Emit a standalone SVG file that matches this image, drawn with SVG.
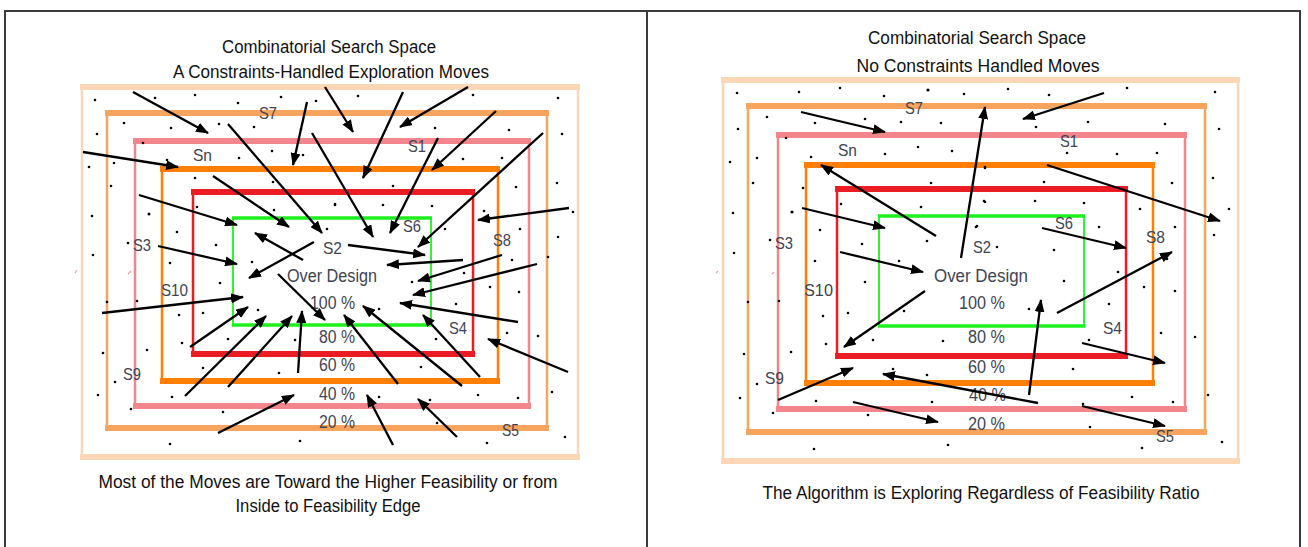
<svg xmlns="http://www.w3.org/2000/svg" width="1308" height="547" viewBox="0 0 1308 547">
<defs>
<marker id="ah" markerUnits="userSpaceOnUse" markerWidth="13" markerHeight="10" refX="12" refY="5" orient="auto"><path d="M0,0 L13,5 L0,10 z" fill="#000"/></marker>
<style>
.frame{fill:none;stroke:#3a3a3a;stroke-width:2}
.peach{stroke:#FCD7B6;fill:none}
.s7{stroke:#F7A55E;fill:none}
.pink{stroke:#F2868C;fill:none}
.sn{stroke:#FF7F05;fill:none}
.red{stroke:#EC1C24;fill:none}
.green{stroke:#1EF01E;fill:none}
.side{stroke-width:2.5}
.bar{stroke-width:6}
.gbar{stroke-width:3.5}
.gside{stroke-width:1.8}
.arr{stroke:#000;stroke-width:2.3;fill:none;marker-end:url(#ah)}
.dot{fill:#000}
.title{font-family:"Liberation Sans",Arial,sans-serif;font-size:17.5px;fill:#111;text-anchor:middle}
.lab{font-family:"Liberation Sans",Arial,sans-serif;font-size:16.5px;fill:#3E4452}
.pct{font-family:"Liberation Sans",Arial,sans-serif;font-size:17.5px;fill:#3E4452}
.tick{stroke:#F29CA0;stroke-width:1.2}
</style>
</defs>
<rect width="1308" height="547" fill="#fff"/>
<g id="table-frame">
<path class="frame" d="M5,560 V11 H1300 V560 M647,11 V560"/>
</g>

<g id="left-panel">
<g id="left-titles">
<text class="title" x="329" y="53" textLength="214" lengthAdjust="spacingAndGlyphs">Combinatorial Search Space</text>
<text class="title" x="331" y="78" textLength="316" lengthAdjust="spacingAndGlyphs">A Constraints-Handled Exploration Moves</text>
<text class="title" x="328" y="488" textLength="459" lengthAdjust="spacingAndGlyphs">Most of the Moves are Toward the Higher Feasibility or from</text>
<text class="title" x="328" y="512" textLength="185" lengthAdjust="spacingAndGlyphs">Inside to Feasibility Edge</text>
</g>
<g id="left-regions">
<rect class="peach side" x="82" y="87" width="496" height="370"/>
<path class="peach bar" d="M80,87 H580 M80,457 H580"/>
<rect class="s7 side" x="107" y="113" width="440" height="315"/>
<path class="s7 bar" d="M105,113 H549 M105,428 H549"/>
<rect class="pink side" x="135" y="141" width="394" height="265"/>
<path class="pink bar" d="M133,141 H531 M133,406 H531"/>
<rect class="sn side" x="162" y="169" width="336" height="212"/>
<path class="sn bar" d="M160,169 H500 M160,381 H500"/>
<rect class="red side" x="193" y="192" width="280" height="162"/>
<path class="red bar" d="M191,192 H475 M191,354 H475"/>
<rect class="green gside" x="233" y="218" width="198" height="107"/>
<path class="green gbar" d="M232,218 H432 M232,325 H432"/>
</g>
<g id="left-dots" class="dot">
<circle cx="95" cy="100" r="1.3"/><circle cx="155" cy="98" r="1.3"/><circle cx="195" cy="95" r="1.3"/><circle cx="238" cy="103" r="1.3"/><circle cx="281" cy="97" r="1.3"/><circle cx="316" cy="101" r="1.3"/><circle cx="124" cy="123" r="1.3"/><circle cx="171" cy="128" r="1.3"/><circle cx="219" cy="124" r="1.3"/><circle cx="254" cy="127" r="1.3"/><circle cx="301" cy="129" r="1.3"/><circle cx="97" cy="134" r="1.3"/><circle cx="143" cy="143" r="1.3"/><circle cx="272" cy="151" r="1.3"/><circle cx="239" cy="158" r="1.3"/><circle cx="167" cy="160" r="1.3"/><circle cx="303" cy="155" r="1.3"/><circle cx="114" cy="163" r="1.3"/><circle cx="89" cy="167" r="1.3"/><circle cx="111" cy="186" r="1.3"/><circle cx="195" cy="178" r="1.3"/><circle cx="273" cy="182" r="1.3"/><circle cx="149" cy="214" r="1.5"/><circle cx="197" cy="207" r="1.3"/><circle cx="92" cy="216" r="1.3"/><circle cx="335" cy="204" r="1.3"/><circle cx="274" cy="210" r="1.3"/><circle cx="177" cy="232" r="1.3"/><circle cx="216" cy="245" r="1.3"/><circle cx="93" cy="255" r="1.3"/><circle cx="252" cy="262" r="1.3"/><circle cx="170" cy="263" r="1.3"/><circle cx="327" cy="229" r="1.3"/><circle cx="128" cy="243" r="1.3"/>
<circle cx="358" cy="96" r="1.3"/><circle cx="473" cy="95" r="1.3"/><circle cx="558" cy="98" r="1.3"/><circle cx="435" cy="128" r="1.3"/><circle cx="509" cy="130" r="1.3"/><circle cx="562" cy="134" r="1.3"/><circle cx="463" cy="159" r="1.3"/><circle cx="502" cy="158" r="1.3"/><circle cx="393" cy="186" r="1.3"/><circle cx="516" cy="187" r="1.3"/><circle cx="557" cy="183" r="1.3"/><circle cx="335" cy="205" r="1.3"/><circle cx="383" cy="205" r="1.3"/><circle cx="432" cy="206" r="1.3"/><circle cx="484" cy="211" r="1.3"/><circle cx="573" cy="212" r="1.3"/><circle cx="445" cy="229" r="1.3"/><circle cx="520" cy="229" r="1.3"/><circle cx="558" cy="237" r="1.3"/><circle cx="512" cy="260" r="1.3"/><circle cx="403" cy="252" r="1.3"/><circle cx="548" cy="257" r="1.3"/>
<circle cx="220" cy="283" r="1.3"/><circle cx="107" cy="302" r="1.3"/><circle cx="137" cy="301" r="1.3"/><circle cx="203" cy="313" r="1.3"/><circle cx="179" cy="315" r="1.3"/><circle cx="258" cy="310" r="1.3"/><circle cx="103" cy="353" r="1.3"/><circle cx="147" cy="350" r="1.3"/><circle cx="182" cy="343" r="1.3"/><circle cx="228" cy="339" r="1.3"/><circle cx="295" cy="340" r="1.3"/><circle cx="203" cy="368" r="1.3"/><circle cx="279" cy="373" r="1.3"/><circle cx="115" cy="382" r="1.3"/><circle cx="98" cy="395" r="1.3"/><circle cx="172" cy="397" r="1.3"/><circle cx="131" cy="409" r="1.3"/><circle cx="223" cy="412" r="1.3"/><circle cx="170" cy="444" r="1.3"/><circle cx="300" cy="441" r="1.3"/>
<circle cx="464" cy="273" r="1.3"/><circle cx="412" cy="282" r="1.3"/><circle cx="519" cy="292" r="1.3"/><circle cx="490" cy="287" r="1.3"/><circle cx="379" cy="309" r="1.3"/><circle cx="456" cy="304" r="1.3"/><circle cx="436" cy="339" r="1.3"/><circle cx="507" cy="333" r="1.3"/><circle cx="538" cy="336" r="1.3"/><circle cx="421" cy="367" r="1.3"/><circle cx="379" cy="397" r="1.3"/><circle cx="430" cy="400" r="1.3"/><circle cx="478" cy="395" r="1.3"/><circle cx="518" cy="398" r="1.3"/><circle cx="552" cy="392" r="1.3"/><circle cx="437" cy="423" r="1.3"/><circle cx="487" cy="443" r="1.3"/><circle cx="565" cy="437" r="1.3"/>
</g>
<g id="left-ticks">
<path class="tick" d="M75,273 L77,270 M128,274 L131,271"/>
</g>
<g id="left-labels">
<text class="lab" x="259" y="119" textLength="18" lengthAdjust="spacingAndGlyphs">S7</text>
<text class="lab" x="193" y="161" textLength="19" lengthAdjust="spacingAndGlyphs">Sn</text>
<text class="lab" x="408" y="152" textLength="18" lengthAdjust="spacingAndGlyphs">S1</text>
<text class="lab" x="133" y="251" textLength="18" lengthAdjust="spacingAndGlyphs">S3</text>
<text class="lab" x="323" y="254" textLength="19" lengthAdjust="spacingAndGlyphs">S2</text>
<text class="lab" x="403" y="232" textLength="18" lengthAdjust="spacingAndGlyphs">S6</text>
<text class="lab" x="493" y="246" textLength="18" lengthAdjust="spacingAndGlyphs">S8</text>
<text class="lab" x="161" y="296" textLength="27" lengthAdjust="spacingAndGlyphs">S10</text>
<text class="lab" x="123" y="380" textLength="18" lengthAdjust="spacingAndGlyphs">S9</text>
<text class="lab" x="449" y="334" textLength="18" lengthAdjust="spacingAndGlyphs">S4</text>
<text class="lab" x="502" y="436" textLength="17" lengthAdjust="spacingAndGlyphs">S5</text>
<text class="pct" x="287" y="282" textLength="90" lengthAdjust="spacingAndGlyphs">Over Design</text>
<text class="pct" x="310" y="309" textLength="45" lengthAdjust="spacingAndGlyphs">100 %</text>
<text class="pct" x="319" y="343" textLength="36" lengthAdjust="spacingAndGlyphs">80 %</text>
<text class="pct" x="319" y="371" textLength="36" lengthAdjust="spacingAndGlyphs">60 %</text>
<text class="pct" x="319" y="400" textLength="36" lengthAdjust="spacingAndGlyphs">40 %</text>
<text class="pct" x="319" y="428" textLength="36" lengthAdjust="spacingAndGlyphs">20 %</text>
</g>
</g>

<g id="left-connectors">
<line class="arr" x1="133" y1="92" x2="208" y2="133"/>
<line class="arr" x1="83" y1="152" x2="178" y2="167"/>
<line class="arr" x1="307" y1="102" x2="293" y2="165"/>
<line class="arr" x1="228" y1="124" x2="322" y2="233"/>
<line class="arr" x1="213" y1="176" x2="289" y2="227"/>
<line class="arr" x1="139" y1="195" x2="237" y2="225"/>
<line class="arr" x1="158" y1="246" x2="237" y2="264"/>
<line class="arr" x1="303" y1="260" x2="255" y2="233"/>
<line class="arr" x1="314" y1="242" x2="249" y2="278"/>
<line class="arr" x1="312" y1="133" x2="373" y2="237"/>
<line class="arr" x1="403" y1="92" x2="363" y2="178"/>
<line class="arr" x1="468" y1="87" x2="400" y2="127"/>
<line class="arr" x1="325" y1="87" x2="353" y2="132"/>
<line class="arr" x1="496" y1="111" x2="432" y2="170"/>
<line class="arr" x1="438" y1="138" x2="390" y2="233"/>
<line class="arr" x1="543" y1="133" x2="418" y2="247"/>
<line class="arr" x1="569" y1="208" x2="478" y2="220"/>
<line class="arr" x1="348" y1="245" x2="425" y2="255"/>
<line class="arr" x1="463" y1="260" x2="387" y2="265"/>
<line class="arr" x1="502" y1="255" x2="418" y2="281"/>
<line class="arr" x1="537" y1="264" x2="413" y2="295"/>
<line class="arr" x1="518" y1="322" x2="400" y2="303"/>
<line class="arr" x1="568" y1="372" x2="488" y2="339"/>
<line class="arr" x1="480" y1="377" x2="423" y2="315"/>
<line class="arr" x1="462" y1="386" x2="363" y2="306"/>
<line class="arr" x1="398" y1="384" x2="344" y2="315"/>
<line class="arr" x1="457" y1="437" x2="418" y2="399"/>
<line class="arr" x1="393" y1="445" x2="367" y2="395"/>
<line class="arr" x1="102" y1="313" x2="243" y2="297"/>
<line class="arr" x1="278" y1="274" x2="325" y2="320"/>
<line class="arr" x1="190" y1="347" x2="248" y2="307"/>
<line class="arr" x1="185" y1="396" x2="266" y2="316"/>
<line class="arr" x1="228" y1="387" x2="292" y2="316"/>
<line class="arr" x1="298" y1="373" x2="302" y2="311"/>
<line class="arr" x1="218" y1="433" x2="294" y2="395"/>
</g>

<g id="right-panel">
<g id="right-titles">
<text class="title" x="977" y="44" textLength="218" lengthAdjust="spacingAndGlyphs">Combinatorial Search Space</text>
<text class="title" x="978" y="72" textLength="243" lengthAdjust="spacingAndGlyphs">No Constraints Handled Moves</text>
<text class="title" x="981" y="499" textLength="437" lengthAdjust="spacingAndGlyphs">The Algorithm is Exploring Regardless of Feasibility Ratio</text>
</g>
<g id="right-regions">
<rect class="peach side" x="723" y="80" width="515" height="381"/>
<path class="peach bar" d="M721,80 H1240 M721,461 H1240"/>
<rect class="s7 side" x="748" y="106" width="457" height="326"/>
<path class="s7 bar" d="M746,106 H1207 M746,432 H1207"/>
<rect class="pink side" x="778" y="135" width="407" height="274"/>
<path class="pink bar" d="M776,135 H1187 M776,409 H1187"/>
<rect class="sn side" x="806" y="165" width="347" height="218"/>
<path class="sn bar" d="M804,165 H1155 M804,383 H1155"/>
<rect class="red side" x="837" y="189" width="289" height="167"/>
<path class="red bar" d="M835,189 H1128 M835,356 H1128"/>
<rect class="green gside" x="879" y="216" width="205" height="110"/>
<path class="green gbar" d="M878,216 H1085 M878,326 H1085"/>
</g>
<g id="right-dots" class="dot">
<circle cx="737" cy="93" r="1.3"/><circle cx="799" cy="92" r="1.3"/><circle cx="840" cy="88" r="1.3"/><circle cx="884" cy="96" r="1.3"/><circle cx="928" cy="90" r="1.6"/><circle cx="964" cy="94" r="1.3"/><circle cx="767" cy="117" r="1.3"/><circle cx="815" cy="123" r="1.3"/><circle cx="865" cy="119" r="1.3"/><circle cx="901" cy="122" r="1.3"/><circle cx="941" cy="123" r="1.3"/><circle cx="738" cy="129" r="1.3"/><circle cx="786" cy="138" r="1.3"/><circle cx="757" cy="158" r="1.3"/><circle cx="811" cy="157" r="1.3"/><circle cx="885" cy="154" r="1.3"/><circle cx="918" cy="147" r="1.3"/><circle cx="952" cy="151" r="1.3"/><circle cx="730" cy="162" r="1.3"/><circle cx="753" cy="183" r="1.3"/><circle cx="803" cy="188" r="1.3"/><circle cx="841" cy="204" r="1.3"/><circle cx="921" cy="207" r="1.3"/><circle cx="931" cy="183" r="1.3"/><circle cx="985" cy="167" r="1.3"/><circle cx="792" cy="212" r="1.6"/><circle cx="733" cy="213" r="1.3"/><circle cx="820" cy="230" r="1.3"/><circle cx="770" cy="240" r="1.3"/><circle cx="862" cy="244" r="1.3"/><circle cx="927" cy="241" r="1.3"/><circle cx="976" cy="227" r="1.3"/><circle cx="734" cy="253" r="1.3"/><circle cx="815" cy="261" r="1.3"/><circle cx="899" cy="261" r="1.3"/><circle cx="985" cy="202" r="1.3"/>
<circle cx="1008" cy="89" r="1.3"/><circle cx="1049" cy="95" r="1.3"/><circle cx="1127" cy="88" r="1.3"/><circle cx="1215" cy="92" r="1.3"/><circle cx="1036" cy="127" r="1.3"/><circle cx="1088" cy="122" r="1.3"/><circle cx="1165" cy="124" r="1.3"/><circle cx="1219" cy="129" r="1.3"/><circle cx="1067" cy="153" r="1.3"/><circle cx="1117" cy="154" r="1.3"/><circle cx="1157" cy="153" r="1.3"/><circle cx="985" cy="168" r="1.3"/><circle cx="1044" cy="182" r="1.3"/><circle cx="1172" cy="183" r="1.3"/><circle cx="1213" cy="178" r="1.3"/><circle cx="984" cy="201" r="1.3"/><circle cx="1035" cy="201" r="1.3"/><circle cx="1084" cy="203" r="1.3"/><circle cx="1140" cy="209" r="1.3"/><circle cx="1229" cy="209" r="1.3"/><circle cx="977" cy="226" r="1.3"/><circle cx="1099" cy="227" r="1.3"/><circle cx="1175" cy="227" r="1.3"/><circle cx="1214" cy="235" r="1.3"/><circle cx="997" cy="247" r="1.3"/><circle cx="1054" cy="250" r="1.3"/><circle cx="1167" cy="259" r="1.3"/>
<circle cx="865" cy="282" r="1.3"/><circle cx="748" cy="302" r="1.3"/><circle cx="779" cy="301" r="1.3"/><circle cx="848" cy="313" r="1.3"/><circle cx="823" cy="316" r="1.3"/><circle cx="904" cy="311" r="1.3"/><circle cx="744" cy="354" r="1.3"/><circle cx="791" cy="352" r="1.3"/><circle cx="826" cy="344" r="1.3"/><circle cx="873" cy="340" r="1.3"/><circle cx="943" cy="341" r="1.3"/><circle cx="893" cy="369" r="1.3"/><circle cx="927" cy="375" r="1.3"/><circle cx="757" cy="384" r="1.3"/><circle cx="740" cy="398" r="1.3"/><circle cx="816" cy="401" r="1.3"/><circle cx="773" cy="413" r="1.3"/><circle cx="868" cy="415" r="1.3"/><circle cx="932" cy="402" r="1.3"/><circle cx="814" cy="449" r="1.3"/><circle cx="948" cy="445" r="1.3"/>
<circle cx="1064" cy="281" r="1.3"/><circle cx="1118" cy="272" r="1.3"/><circle cx="1144" cy="287" r="1.3"/><circle cx="1175" cy="291" r="1.3"/><circle cx="1029" cy="309" r="1.3"/><circle cx="1109" cy="304" r="1.3"/><circle cx="1089" cy="340" r="1.3"/><circle cx="1161" cy="333" r="1.3"/><circle cx="1195" cy="337" r="1.3"/><circle cx="1073" cy="369" r="1.3"/><circle cx="1132" cy="397" r="1.3"/><circle cx="1173" cy="402" r="1.3"/><circle cx="1208" cy="395" r="1.3"/><circle cx="1083" cy="404" r="1.3"/><circle cx="1090" cy="427" r="1.3"/><circle cx="1142" cy="448" r="1.3"/><circle cx="1222" cy="442" r="1.3"/>
</g>
<g id="right-ticks">
<path class="tick" d="M716,273 L718,271 M772,274 L774,272"/>
</g>
<g id="right-labels">
<text class="lab" x="905" y="114" textLength="18" lengthAdjust="spacingAndGlyphs">S7</text>
<text class="lab" x="838" y="156" textLength="19" lengthAdjust="spacingAndGlyphs">Sn</text>
<text class="lab" x="1060" y="147" textLength="18" lengthAdjust="spacingAndGlyphs">S1</text>
<text class="lab" x="775" y="249" textLength="18" lengthAdjust="spacingAndGlyphs">S3</text>
<text class="lab" x="973" y="253" textLength="18" lengthAdjust="spacingAndGlyphs">S2</text>
<text class="lab" x="1055" y="229" textLength="18" lengthAdjust="spacingAndGlyphs">S6</text>
<text class="lab" x="1146" y="243" textLength="19" lengthAdjust="spacingAndGlyphs">S8</text>
<text class="lab" x="804" y="296" textLength="29" lengthAdjust="spacingAndGlyphs">S10</text>
<text class="lab" x="765" y="384" textLength="19" lengthAdjust="spacingAndGlyphs">S9</text>
<text class="lab" x="1103" y="334" textLength="19" lengthAdjust="spacingAndGlyphs">S4</text>
<text class="lab" x="1156" y="442" textLength="18" lengthAdjust="spacingAndGlyphs">S5</text>
<text class="pct" x="934" y="282" textLength="94" lengthAdjust="spacingAndGlyphs">Over Design</text>
<text class="pct" x="959" y="309" textLength="46" lengthAdjust="spacingAndGlyphs">100 %</text>
<text class="pct" x="968" y="343" textLength="37" lengthAdjust="spacingAndGlyphs">80 %</text>
<text class="pct" x="968" y="373" textLength="37" lengthAdjust="spacingAndGlyphs">60 %</text>
<text class="pct" x="969" y="401" textLength="37" lengthAdjust="spacingAndGlyphs">40 %</text>
<text class="pct" x="968" y="430" textLength="37" lengthAdjust="spacingAndGlyphs">20 %</text>
</g>
</g>

<g id="right-connectors">
<line class="arr" x1="801" y1="112" x2="885" y2="132"/>
<line class="arr" x1="936" y1="236" x2="821" y2="165"/>
<line class="arr" x1="802" y1="208" x2="885" y2="228"/>
<line class="arr" x1="961" y1="258" x2="985" y2="107"/>
<line class="arr" x1="840" y1="252" x2="923" y2="272"/>
<line class="arr" x1="1104" y1="93" x2="1023" y2="119"/>
<line class="arr" x1="1047" y1="165" x2="1220" y2="221"/>
<line class="arr" x1="1042" y1="228" x2="1126" y2="248"/>
<line class="arr" x1="1057" y1="313" x2="1172" y2="252"/>
<line class="arr" x1="925" y1="291" x2="844" y2="347"/>
<line class="arr" x1="778" y1="400" x2="853" y2="368"/>
<line class="arr" x1="853" y1="402" x2="938" y2="422"/>
<line class="arr" x1="1038" y1="403" x2="883" y2="374"/>
<line class="arr" x1="1029" y1="395" x2="1041" y2="300"/>
<line class="arr" x1="1082" y1="343" x2="1165" y2="363"/>
<line class="arr" x1="1082" y1="406" x2="1165" y2="426"/>
</g>
</svg>
